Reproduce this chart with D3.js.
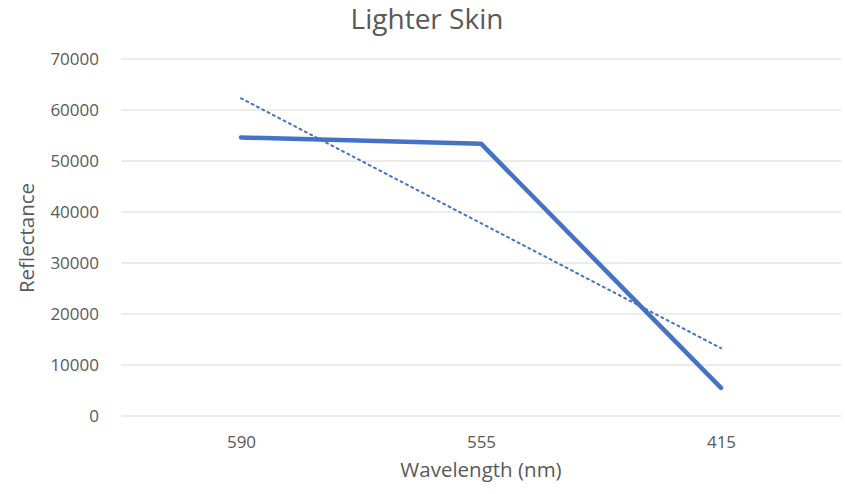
<!DOCTYPE html>
<meta charset="UTF-8">
<style>
  body { margin: 0; background: #fff; }
  text { font-family: "Open Sans", sans-serif; fill: #595959; }
</style>
<svg width="845" height="494"></svg>
<script src="https://d3js.org/d3.v7.min.js"></script>
<script>
var categories = ["590", "555", "415"];
var reflectance = [54600, 53400, 5500];
var trendline = [62300, 13300];
var yTicks = [0, 10000, 20000, 30000, 40000, 50000, 60000, 70000];

var svg = d3.select("svg"),
    margin = {top: 59, right: 4, bottom: 78, left: 121},
    width = +svg.attr("width") - margin.left - margin.right,
    height = +svg.attr("height") - margin.top - margin.bottom,
    g = svg.append("g").attr("transform", "translate(" + margin.left + "," + margin.top + ")");

var x = d3.scalePoint().domain(categories).range([0, width]).padding(0.5);
var y = d3.scaleLinear().domain([0, 70000]).range([height, 0]);

// gridlines
g.append("g")
    .selectAll("line")
    .data(yTicks)
    .enter().append("line")
    .attr("x1", 0).attr("x2", width)
    .attr("y1", function(d) { return y(d); })
    .attr("y2", function(d) { return y(d); })
    .attr("stroke", "#d9d9d9")
    .attr("stroke-width", 1);

// y axis labels
var yAxis = g.append("g")
    .call(d3.axisLeft(y).tickValues(yTicks).tickSize(0).tickPadding(22).tickFormat(d3.format("d")));
yAxis.select(".domain").remove();
yAxis.selectAll("text").style("font-size", "17px").attr("fill", "#595959");

// x axis labels
var xAxis = g.append("g")
    .attr("transform", "translate(0," + height + ")")
    .call(d3.axisBottom(x).tickSize(0).tickPadding(20));
xAxis.select(".domain").remove();
xAxis.selectAll("text").style("font-size", "17px").attr("fill", "#595959");

// trendline (dotted)
var trendData = [categories[0], categories[categories.length - 1]].map(function(c, i) {
    return {c: c, v: trendline[i]};
});
g.append("path")
    .datum(trendData)
    .attr("fill", "none")
    .attr("stroke", "#4472C4")
    .attr("stroke-width", 2)
    .attr("stroke-dasharray", "2,4")
    .attr("stroke-linecap", "round")
    .attr("d", d3.line().x(function(d) { return x(d.c); }).y(function(d) { return y(d.v); }));

// main series
var lineData = categories.map(function(c, i) { return {c: c, v: reflectance[i]}; });
g.append("path")
    .datum(lineData)
    .attr("fill", "none")
    .attr("stroke", "#4472C4")
    .attr("stroke-width", 4.5)
    .attr("stroke-linejoin", "round")
    .attr("stroke-linecap", "round")
    .attr("d", d3.line().x(function(d) { return x(d.c); }).y(function(d) { return y(d.v); }));

// title
svg.append("text")
    .attr("x", 427).attr("y", 29)
    .attr("text-anchor", "middle")
    .style("font-size", "28px")
    .text("Lighter Skin");

// axis titles
svg.append("text")
    .attr("x", 481).attr("y", 477)
    .attr("text-anchor", "middle")
    .style("font-size", "20.5px")
    .text("Wavelength (nm)");

svg.append("text")
    .attr("transform", "translate(34,238) rotate(-90)")
    .attr("text-anchor", "middle")
    .style("font-size", "20.5px")
    .text("Reflectance");
</script>
